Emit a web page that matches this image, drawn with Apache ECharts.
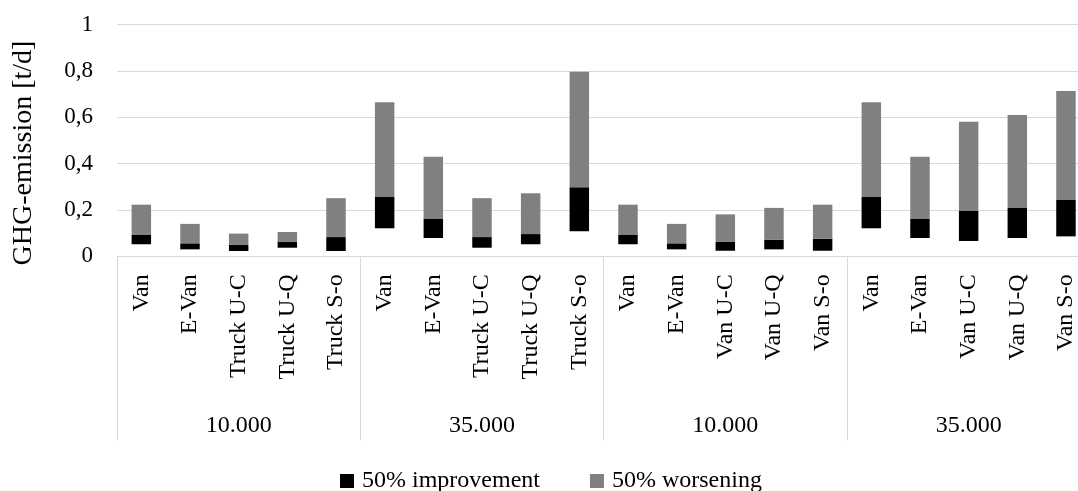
<!DOCTYPE html>
<html>
<head>
<meta charset="utf-8">
<script src="https://cdn.jsdelivr.net/npm/echarts@6/dist/echarts.min.js"></script>
<style>
html,body{margin:0;padding:0;background:#fff;}
#chart{width:1078px;height:491px;}
</style>
</head>
<body>
<div id="chart"></div>
<script>
const categories = ['Van','E-Van','Truck U-C','Truck U-Q','Truck S-o','Van','E-Van','Truck U-C','Truck U-Q','Truck S-o','Van','E-Van','Van U-C','Van U-Q','Van S-o','Van','E-Van','Van U-C','Van U-Q','Van S-o'];
const groups = ['10.000','35.000','10.000','35.000'];
const seriesNames = ['50% improvement','50% worsening'];
// bottom of black segment, black/gray boundary, top of gray segment
const low  = [0.052,0.030,0.023,0.037,0.023, 0.121,0.079,0.037,0.052,0.108, 0.052,0.030,0.024,0.030,0.024, 0.121,0.079,0.066,0.079,0.086];
const mid  = [0.092,0.056,0.049,0.062,0.083, 0.256,0.161,0.083,0.096,0.298, 0.092,0.056,0.062,0.072,0.076, 0.256,0.161,0.196,0.209,0.243];
const high = [0.223,0.140,0.098,0.105,0.251, 0.665,0.430,0.251,0.272,0.797, 0.223,0.140,0.181,0.209,0.223, 0.665,0.430,0.581,0.610,0.714];

const r3 = v => Math.round(v * 1000) / 1000;
const improvement = mid.map((m, i) => r3(m - low[i]));
const worsening = high.map((h, i) => r3(h - mid[i]));

const FONT = 'Liberation Serif';
const chart = echarts.init(document.getElementById('chart'), null, {renderer: 'canvas'});
chart.setOption({
  animation: false,
  backgroundColor: '#ffffff',
  textStyle: {fontFamily: FONT, color: '#000'},
  grid: {left: 117, width: 973.3, top: 24.7, height: 231.6, containLabel: false, outerBoundsMode: 'none'},
  legend: {
    data: seriesNames,
    left: 335,
    top: 464,
    icon: 'rect',
    itemWidth: 14,
    itemHeight: 14,
    itemGap: 50,
    textStyle: {fontFamily: FONT, fontSize: 24, color: '#000', padding: [0, 0, 0, 3]}
  },
  graphic: [{
    type: 'text',
    x: 24,
    y: 153,
    rotation: Math.PI / 2,
    style: {
      text: 'GHG-emission [t/d]',
      font: '28px "Liberation Serif"',
      fill: '#000',
      textAlign: 'center',
      textVerticalAlign: 'middle'
    }
  }],
  xAxis: [{
    type: 'category',
    data: categories,
    position: 'bottom',
    axisLine: {show: true, lineStyle: {color: '#d9d9d9', width: 1}},
    axisTick: {show: true, interval: idx => idx % 5 === 0, length: 184, lineStyle: {color: '#d9d9d9', width: 1}},
    axisLabel: {rotate: 90, margin: 18, fontSize: 24, fontFamily: FONT, color: '#000', interval: 0}
  }, {
    type: 'category',
    data: groups,
    position: 'bottom',
    offset: 150,
    axisLine: {show: false},
    axisTick: {show: false},
    axisLabel: {margin: 7, fontSize: 24, fontFamily: FONT, color: '#000', interval: 0}
  }],
  yAxis: {
    type: 'value',
    min: 0,
    max: 1,
    interval: 0.2,
    axisLine: {show: false},
    axisTick: {show: false},
    splitLine: {lineStyle: {color: '#d9d9d9', width: 1}},
    axisLabel: {
      margin: 24,
      fontSize: 23,
      fontFamily: FONT,
      color: '#000',
      formatter: v => Number.isInteger(v) ? String(v) : v.toFixed(1).replace('.', ',')
    }
  },
  series: [{
    name: 'base',
    type: 'bar',
    stack: 'range',
    barWidth: '40%',
    data: low,
    itemStyle: {color: 'rgba(0,0,0,0)'},
    silent: true
  }, {
    name: seriesNames[0],
    type: 'bar',
    stack: 'range',
    barWidth: '40%',
    data: improvement,
    itemStyle: {color: '#000000'}
  }, {
    name: seriesNames[1],
    type: 'bar',
    stack: 'range',
    barWidth: '40%',
    data: worsening,
    itemStyle: {color: '#808080'}
  }]
});
</script>
</body>
</html>
